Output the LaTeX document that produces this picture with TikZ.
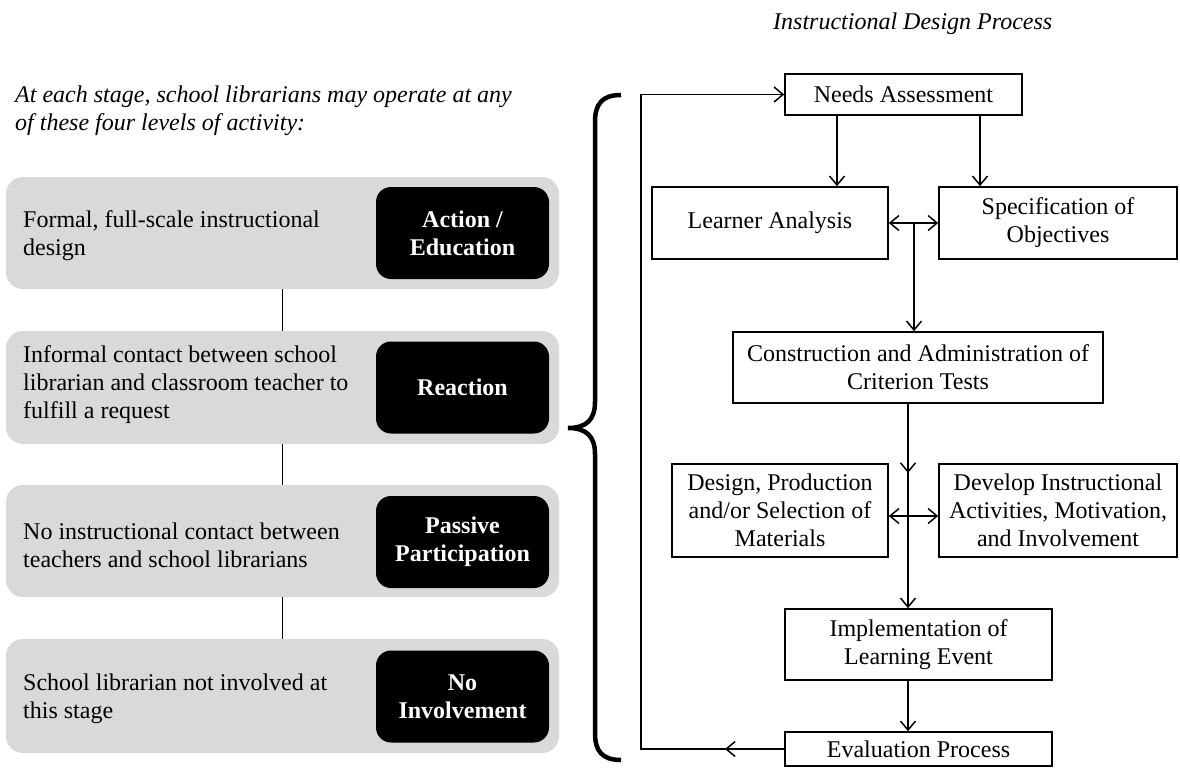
\documentclass[tikz,border=0pt]{standalone}
\usepackage{fontspec}
\setmainfont{Liberation Serif}
\usetikzlibrary{arrows.meta}
\definecolor{levelgray}{RGB}{217,217,217}
\begin{document}
\begin{tikzpicture}[x=1pt,y=-1pt,
  font=\fontsize{24}{28}\selectfont,
  level/.style={fill=levelgray, draw=none, rounded corners=17pt,
    minimum width=553pt, minimum height=112pt, inner sep=0pt},
  tag/.style={fill=black, draw=none, rounded corners=15pt, text=white,
    font=\fontsize{24}{28}\selectfont\bfseries, align=center,
    minimum width=173pt, minimum height=92pt, inner sep=0pt},
  desc/.style={anchor=west, align=left, inner sep=0pt},
  stepbox/.style={draw, line width=1.6pt, align=center, inner sep=0pt},
  link/.style={line width=1.2pt},
  tip/.tip={Straight Barb[length=9pt,width=15pt]},
  arr/.style={line width=1.5pt, -tip},
  darr/.style={line width=1.5pt, tip-tip},
  brace/.style={line width=4.5pt}
]
\useasboundingbox (0,0) rectangle (1180,768);

% captions
\node[anchor=base west, inner sep=0pt, font=\fontsize{24}{28}\selectfont\itshape]
  (title) at (773,30) {Instructional Design Process};
\node[anchor=west, align=left, inner sep=0pt, font=\fontsize{24}{28}\selectfont\itshape]
  (intro) at (15,110.5) {At each stage, school librarians may operate at any\\of these four levels of activity:};

% levels of involvement
\node[level] (g1) at (282.5,233) {};
\node[level, minimum height=113pt] (g2) at (282.5,387.5) {};
\node[level] (g3) at (282.5,541) {};
\node[level, minimum height=114pt] (g4) at (282.5,696) {};

\node[tag] (b1) at (462.5,233) {Action /\\Education};
\node[tag] (b2) at (462.5,387.5) {Reaction};
\node[tag] (b3) at (462.5,542) {Passive\\Participation};
\node[tag] (b4) at (462.5,696.5) {No\\Involvement};

\node[desc] (t1) at (23,236) {Formal, full-scale instructional\\design};
\node[desc] (t2) at (23,385) {Informal contact between school\\librarian and classroom teacher to\\fulfill a request};
\node[desc] (t3) at (23,545) {No instructional contact between\\teachers and school librarians};
\node[desc] (t4) at (23,699) {School librarian not involved at\\this stage};

\draw[link] (g1.south) -- (g2.north);
\draw[link] (g2.south) -- (g3.north);
\draw[link] (g3.south) -- (g4.north);

% brace
\draw[brace] (621,95) .. controls (602,95) and (595,104) .. (595,122)
  -- (595,402) .. controls (595,420) and (586,428) .. (568,428)
  .. controls (586,428) and (595,436) .. (595,454)
  -- (595,733) .. controls (595,751) and (602,760) .. (621,760);

% instructional design process
\node[stepbox, minimum width=237pt, minimum height=41pt] (na) at (903.5,94.5) {Needs Assessment};
\node[stepbox, minimum width=236pt, minimum height=72pt] (la) at (770,223) {Learner Analysis};
\node[stepbox, minimum width=238pt, minimum height=72pt] (so) at (1058,223) {Specification of\\Objectives};
\node[stepbox, minimum width=370pt, minimum height=71pt] (ct) at (918,367.5) {Construction and Administration of\\Criterion Tests};
\node[stepbox, minimum width=216pt, minimum height=93pt] (dp) at (780,510.5) {Design, Production\\and/or Selection of\\Materials};
\node[stepbox, minimum width=238pt, minimum height=93pt] (di) at (1058,510.5) {Develop Instructional\\Activities, Motivation,\\and Involvement};
\node[stepbox, minimum width=267pt, minimum height=71pt] (ie) at (918.5,644.5) {Implementation of\\Learning Event};
\node[stepbox, minimum width=267pt, minimum height=34pt] (ep) at (918.5,749) {Evaluation Process};

% routing points
\coordinate (xl) at (837,0);
\coordinate (xs) at (980,0);
\coordinate (j1) at (914,223);
\coordinate (j2) at (908,516);
\coordinate (mid1) at (908,473);
\coordinate (fb) at (641,749);
\coordinate (fbtip) at (725,749);

\draw[arr] (na.south -| xl) -- (la.north -| xl);
\draw[arr] (na.south -| xs) -- (so.north -| xs);
\draw[darr] (la.east) -- (so.west);
\draw[arr] (j1) -- (j1 |- ct.north);
\draw[arr] (ct.south -| j2) -- (mid1);
\draw[arr] (ct.south -| j2) -- (ie.north -| j2);
\draw[darr] (dp.east |- j2) -- (di.west |- j2);
\draw[arr] (ie.south -| j2) -- (ep.north -| j2);
\draw[arr] (ep.west) -- (fbtip);
\draw[arr] (ep.west) -- (fb) -- (fb |- na.west) -- (na.west);
\end{tikzpicture}
\end{document}
